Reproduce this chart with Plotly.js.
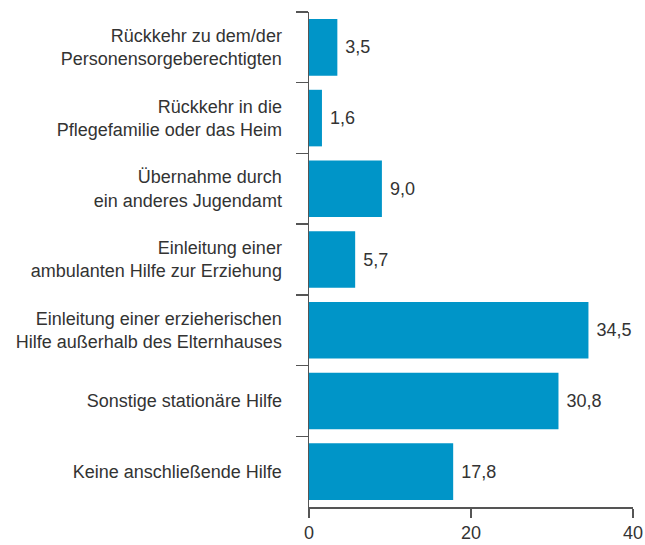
<!DOCTYPE html>
<html>
<head>
<meta charset="utf-8">
<script src="https://cdn.plot.ly/plotly-3.0.1.min.js"></script>
<style>html,body{margin:0;padding:0;background:#fff;}#chart{width:645px;height:545px;}</style>
</head>
<body>
<div id="chart"></div>
<script>
var categories = [
  "Rückkehr zu dem/der<br>Personensorgeberechtigten",
  "Rückkehr in die<br>Pflegefamilie oder das Heim",
  "Übernahme durch<br>ein anderes Jugendamt",
  "Einleitung einer<br>ambulanten Hilfe zur Erziehung",
  "Einleitung einer erzieherischen<br>Hilfe außerhalb des Elternhauses",
  "Sonstige stationäre Hilfe",
  "Keine anschließende Hilfe"
];
var values = [3.5, 1.6, 9.0, 5.7, 34.5, 30.8, 17.8];
var xTicks = [0, 20, 40];

var trace = {
  type: "bar",
  orientation: "h",
  y: categories,
  x: values,
  marker: {color: "#0095c8"},
  text: values.map(function(v){return v.toFixed(1).replace(".", ",");}),
  texttemplate: " %{text}",
  textposition: "outside",
  textfont: {family: "Liberation Sans, Arial, sans-serif", size: 18, color: "#333"},
  cliponaxis: false,
  hoverinfo: "none"
};

var layout = {
  width: 645, height: 545,
  margin: {l: 309, r: 12, t: 12, b: 38},
  paper_bgcolor: "#fff", plot_bgcolor: "#fff",
  showlegend: false,
  bargap: 0.2,
  font: {family: "Liberation Sans, Arial, sans-serif", size: 17, color: "#333"},
  xaxis: {
    range: [0, 40],
    tickvals: xTicks,
    ticktext: xTicks.map(String),
    showgrid: false, zeroline: false,
    showline: true, linecolor: "#555", linewidth: 1.5,
    ticks: "outside", ticklen: 9, tickcolor: "#555", tickwidth: 1.5,
    tickfont: {size: 18, color: "#333"},
    fixedrange: true
  },
  yaxis: {
    type: "category",
    autorange: "reversed",
    showgrid: false, zeroline: false,
    showline: true, linecolor: "#555", linewidth: 1.5,
    ticks: "outside", tickson: "boundaries", ticklen: 12, tickcolor: "#555", tickwidth: 1.5,
    ticklabelstandoff: 22,
    tickfont: {size: 18, color: "#333"},
    fixedrange: true
  }
};

Plotly.newPlot("chart", [trace], layout, {staticPlot: true, displayModeBar: false});
</script>
</body>
</html>
